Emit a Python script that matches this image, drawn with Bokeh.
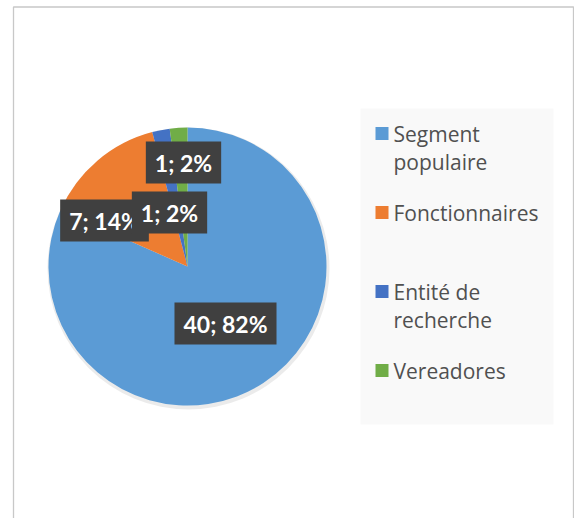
import numpy as np
from bokeh.plotting import figure
from bokeh.models import Range1d, Label, ColumnDataSource
from bokeh.core.properties import value
from bokeh.embed import file_html
from bokeh.resources import INLINE

# ---- data ----
categories = ["Segment populaire", "Fonctionnaires", "Entité de recherche", "Vereadores"]
legend_lines = [["Segment", "populaire"], ["Fonctionnaires"], ["Entité de", "recherche"], ["Vereadores"]]
counts = [40, 7, 1, 1]
colors = ["#5B9BD5", "#ED7D31", "#4472C4", "#70AD47"]

# ---- layout (pixels) ----
W, H = 574, 518
OFF = 0
def X(sx):
    return sx - OFF
def Y(sy):
    return H + OFF - sy

CX, CY, R = 187, 266, 139
label_offsets = [(38, 57), (-83, -46), (-18, -54), (-4, -104)]

p = figure(width=W, height=H, x_range=Range1d(0, W), y_range=Range1d(0, H),
           output_backend="svg", toolbar_location=None, min_border=0,
           x_axis_type=None, y_axis_type=None)
p.grid.visible = False
p.outline_line_color = None
p.background_fill_color = "white"
p.border_fill_color = "white"

# chart area border
p.quad(left=X(13), right=X(573), top=Y(6.5), bottom=-20,
       fill_color=None, line_color="#C8C8C8", line_width=1.3)

# pie shadow
p.circle(x=[X(CX) + 1], y=[Y(CY) - 2], radius=R + 2, fill_color="#000000",
         fill_alpha=0.08, line_color=None)

total = float(sum(counts))
cum = np.concatenate([[0.0], np.cumsum(counts)]) / total
start = np.pi / 2 - 2 * np.pi * cum[1:]
end = np.pi / 2 - 2 * np.pi * cum[:-1]
src = ColumnDataSource(dict(start=start, end=end, color=colors,
                            x=[X(CX)] * len(counts), y=[Y(CY)] * len(counts)))
p.wedge(x="x", y="y", radius=R, start_angle="start", end_angle="end",
        direction="anticlock", fill_color="color", line_color=None, source=src)

# data labels
for c, (dx, dy) in zip(counts, label_offsets):
    txt = f"{c}; {round(100 * c / total)}%"
    lx, ly = X(CX + dx), Y(CY + dy)
    common = dict(x=lx, y=ly, text=txt, text_align="center", text_baseline="middle",
                  text_font="Lato", text_font_style="bold", text_font_size="23px",
                  padding=dict(top=7, right=9, bottom=7, left=9))
    shadow = Label(x_offset=3, y_offset=-3, text_alpha=0.0,
                   background_fill_color="#000000", background_fill_alpha=0.25, **common)
    lab = Label(text_color="white", background_fill_color="#404040",
                background_fill_alpha=1.0, **common)
    p.add_layout(shadow)
    p.add_layout(lab)

# legend
p.quad(left=X(360), right=X(553), top=Y(108), bottom=Y(424),
       fill_color="#F9F9F9", line_color=None)
sq_y = [Y(133 + 79 * i) for i in range(len(categories))]
p.rect(x=[X(381.5)] * len(categories), y=sq_y, width=13, height=13,
       fill_color=colors, line_color=None)
tx, ty, tt = [], [], []
for i, lines in enumerate(legend_lines):
    for j, line in enumerate(lines):
        tx.append(X(393))
        ty.append(Y(133 + 79 * i + 28 * j))
        tt.append(line)
p.text(x=tx, y=ty, text=tt, text_font=value("Open Sans"), text_font_size="21px",
       text_color="#505050", text_baseline="middle", text_align="left")

open("out.html", "w").write(file_html(p, INLINE))
